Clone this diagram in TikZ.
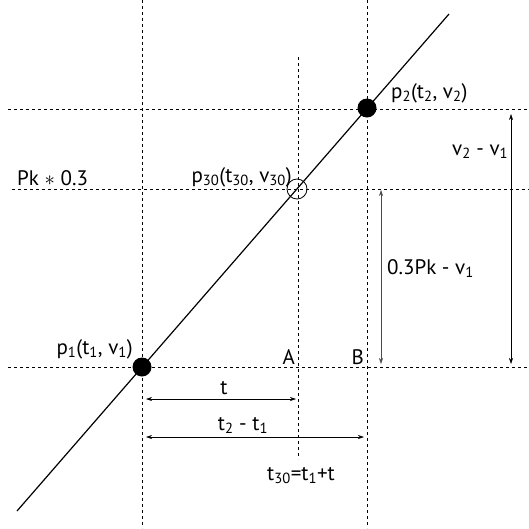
\documentclass[tikz,border=0pt]{standalone}
\usepackage{fontspec}
\setmainfont{PT Sans}
\usetikzlibrary{arrows.meta}
\newcommand\sbs[1]{\textsubscript{#1}}
\begin{document}
\begin{tikzpicture}[x=1pt,y=-1pt,
  font=\fontsize{21}{24}\selectfont,
  guide/.style={draw=black, line width=0.6pt, dash pattern=on 3pt off 3pt},
  mainline/.style={draw=black, line width=1.2pt},
  dot/.style={circle, fill=black, inner sep=0pt, minimum size=19pt},
  odot/.style={circle, draw=black, line width=0.8pt, fill=none, inner sep=0pt, minimum size=20pt},
  dim/.style={line width=0.6pt, {Stealth[length=6pt,width=4pt]}-{Stealth[length=6pt,width=4pt]}},
  lbl/.style={inner sep=0pt}]
\useasboundingbox (0,0) rectangle (529,528);
% guide coordinates
\coordinate (vLt) at (142,0);   \coordinate (vLb) at (142,528);
\coordinate (vMt) at (298,57);  \coordinate (vMb) at (298,459);
\coordinate (vRt) at (367,0);   \coordinate (vRb) at (367,528);
\coordinate (h2l) at (8,109);   \coordinate (h2r) at (529,109);
\coordinate (h3l) at (12,189);  \coordinate (h3r) at (529,189);
\coordinate (h1l) at (8,367);   \coordinate (h1r) at (529,367);
\coordinate (Ls) at (17,511);   \coordinate (Le) at (449,14);
% guides
\draw[guide] (vLt) -- (vLb);
\draw[guide] (vMt) -- (vMb);
\draw[guide] (vRt) -- (vRb);
\draw[guide] (h2l) -- (h2r);
\draw[guide] (h3l) -- (h3r);
\draw[guide] (h1l) -- (h1r);
% main line
\draw[mainline] (Ls) -- (Le);
% points
\node[dot] (p1) at (142,367) {};
\node[dot] (p2) at (367,108) {};
\node[odot] (p30) at (297,189) {};
% dimension arrows
\coordinate (a1t) at (511,114); \coordinate (a1b) at (511,364);
\coordinate (a2t) at (381,190); \coordinate (a2b) at (381,364);
\coordinate (a3l) at (146,399); \coordinate (a3r) at (296,399);
\coordinate (a4l) at (146,437); \coordinate (a4r) at (364,437);
\draw[dim] (a1t) -- (a1b);
\draw[dim, draw=black!70] (a2t) -- (a2b);
\draw[dim] (a3l) -- (a3r);
\draw[dim] (a4l) -- (a4r);
% labels
\node[lbl, anchor=base west] (Lp2) at (391,98) {p\sbs{2}(t\sbs{2}, v\sbs{2})};
\node[lbl, anchor=base west] (Lv) at (452,155) {v\sbs{2} - v\sbs{1}};
\node[lbl, anchor=base west] (Lpk) at (17,185) {Pk $\ast$ 0.3};
\node[lbl, anchor=base east] (Lp30) at (292,182) {p\sbs{30}(t\sbs{30}, v\sbs{30})};
\node[lbl, anchor=base west] (L03) at (387,274) {0.3Pk - v\sbs{1}};
\node[lbl, anchor=base east] (Lp1) at (133,354) {p\sbs{1}(t\sbs{1}, v\sbs{1})};
\node[lbl, anchor=base east] (LA) at (295,364) {A};
\node[lbl, anchor=base east] (LB) at (364,364) {B};
\node[lbl, anchor=base] (Lt) at (224,394) {t};
\node[lbl, anchor=base] (Lt21) at (243,430) {t\sbs{2} - t\sbs{1}};
\node[lbl, anchor=base west] (Lt30) at (267,480) {t\sbs{30}=t\sbs{1}+t};
\end{tikzpicture}
\end{document}
